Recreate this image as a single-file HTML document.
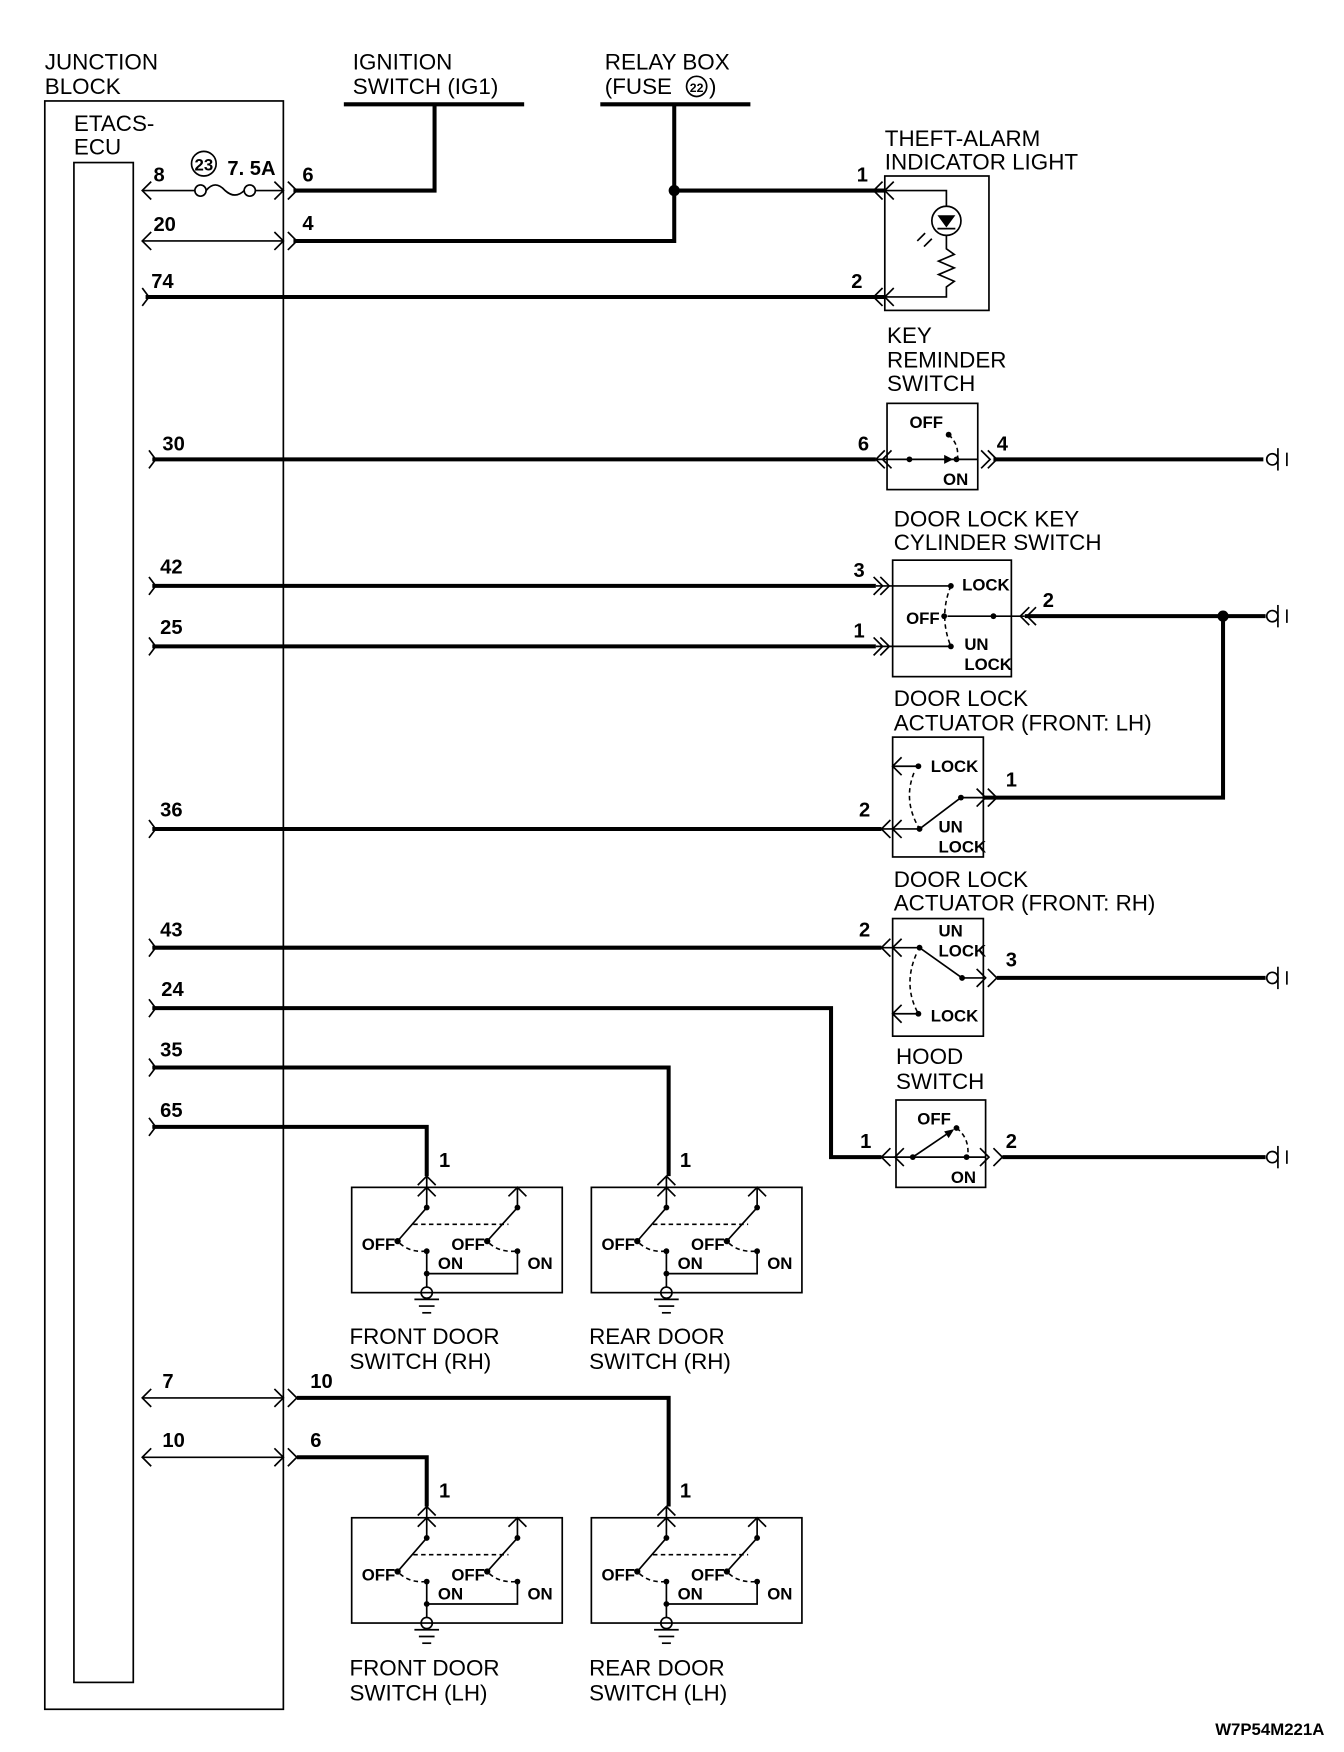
<!DOCTYPE html>
<html><head><meta charset="utf-8">
<style>
html,body{margin:0;padding:0;background:#fff;}
svg{display:block;}
.t{stroke:#000;stroke-width:1.5;fill:none;}
.k{stroke:#000;stroke-width:3.6;fill:none;}
.d{stroke:#000;stroke-width:1.4;fill:none;stroke-dasharray:4 3;}
text{font-family:"Liberation Sans",sans-serif;fill:#000;}
.L{font-size:20px;}
.n{font-size:18px;font-weight:bold;}
.s{font-size:15px;font-weight:bold;}
</style></head><body>
<svg width="1344" height="1752" viewBox="0 0 1200 1564" xmlns="http://www.w3.org/2000/svg">
<rect x="0" y="0" width="1200" height="1564" fill="#fff"/>
<text class="L" x="40" y="62">JUNCTION</text>
<text class="L" x="40" y="84">BLOCK</text>
<rect class="t" x="40" y="90" width="213" height="1436"/>
<text class="L" x="66" y="117">ETACS-</text>
<text class="L" x="66" y="138">ECU</text>
<rect class="t" x="66" y="145" width="53" height="1357"/>

<text class="L" x="315" y="62">IGNITION</text>
<text class="L" x="315" y="84">SWITCH (IG1)</text>
<line class="k" x1="307" y1="93" x2="468" y2="93"/>
<polyline class="k" points="388,93 388,170 262,170"/>
<text class="L" x="540" y="62">RELAY BOX</text>
<text class="L" x="540" y="84">(FUSE </text>
<circle class="t" cx="622" cy="77" r="9"/>
<text x="622" y="82" text-anchor="middle" style="font-size:11px;font-weight:bold">22</text>
<text class="L" x="633" y="84">)</text>
<line class="k" x1="536" y1="93" x2="670" y2="93"/>
<polyline class="k" points="602,93 602,215 262,215"/>
<line class="k" x1="602" y1="170" x2="790" y2="170"/>
<circle cx="602" cy="170" r="5" fill="#000"/>

<line class="t" x1="127" y1="170" x2="174" y2="170"/>
<line class="t" x1="228" y1="170" x2="253" y2="170"/>
<circle class="t" cx="179" cy="170" r="5"/>
<circle class="t" cx="223" cy="170" r="5"/>
<path class="t" d="M184,170 Q192,160 201,170 Q210,178 218,170"/>
<path class="t" d="M135,162 L127,170 L135,178 M245,162 L253,170 L245,178 M257,162 L265,170 L257,178"/>
<text class="n" x="137" y="162">8</text>
<circle class="t" cx="182" cy="146" r="11"/>
<text x="182" y="152" text-anchor="middle" style="font-size:15px;font-weight:bold">23</text>
<text class="n" x="203" y="156">7. 5A</text>
<text class="n" x="270" y="162">6</text>
<line class="t" x1="127" y1="215" x2="253" y2="215"/>
<path class="t" d="M135,207 L127,215 L135,223 M245,207 L253,215 L245,223 M257,207 L265,215 L257,223"/>
<text class="n" x="137" y="206">20</text>
<text class="n" x="270" y="205">4</text>
<line class="k" x1="130" y1="265" x2="790" y2="265"/>
<path class="t" d="M127,257 L133,265 L127,273"/>
<text class="n" x="135" y="257">74</text>
<text class="n" x="760" y="257">2</text>
<text class="n" x="765" y="162">1</text>

<text class="L" x="790" y="130">THEFT-ALARM</text>
<text class="L" x="790" y="151">INDICATOR LIGHT</text>
<rect class="t" x="790" y="157" width="93" height="120"/>
<polyline class="t" points="790,170 845,170 845,184"/>
<circle class="t" cx="845" cy="197" r="13"/>
<path d="M837,192 L853,192 L845,203 Z" fill="#000"/>
<line class="t" x1="837" y1="204" x2="853" y2="204"/>
<polyline class="t" points="845,210 845,222 852,227 838,233 852,239 838,245 852,251 845,256 845,265 790,265"/>
<path class="t" d="M826,208 L819,215 M832,213 L825,220"/>
<path class="t" d="M788,162 L780,170 L788,178 M798,162 L790,170 L798,178 M788,257 L780,265 L788,273 M798,257 L790,265 L798,273"/>

<text class="L" x="792" y="306">KEY</text>
<text class="L" x="792" y="328">REMINDER</text>
<text class="L" x="792" y="349">SWITCH</text>
<rect class="t" x="792" y="360" width="81" height="77"/>
<line class="k" x1="136" y1="410" x2="782" y2="410"/>
<path class="t" d="M133,402 L139,410 L133,418"/>
<text class="n" x="145" y="402">30</text>
<text class="n" x="766" y="402">6</text>
<line class="t" x1="782" y1="410" x2="873" y2="410"/>
<path class="t" d="M790,402 L782,410 L790,418 M796,402 L788,410 L796,418 M876,402 L884,410 L876,418 M882,402 L890,410 L882,418"/>
<circle cx="812" cy="410" r="2.6" fill="#000"/>
<path d="M843,406 L851,410 L843,414Z" fill="#000"/>
<circle cx="854" cy="410" r="2.6" fill="#000"/>
<circle cx="847" cy="388" r="2.6" fill="#000"/>
<path class="d" d="M847,388 Q856,396 855,408"/>
<text class="s" x="812" y="382">OFF</text>
<text class="s" x="842" y="433">ON</text>
<line class="k" x1="887" y1="410" x2="1128" y2="410"/>
<text class="n" x="890" y="402">4</text>

<text class="L" x="798" y="470">DOOR LOCK KEY</text>
<text class="L" x="798" y="491">CYLINDER SWITCH</text>
<rect class="t" x="797" y="500" width="106" height="104"/>
<line class="k" x1="136" y1="523" x2="782" y2="523"/>
<line class="k" x1="136" y1="577" x2="782" y2="577"/>
<path class="t" d="M133,515 L139,523 L133,531 M133,569 L139,577 L133,585"/>
<text class="n" x="143" y="512">42</text>
<text class="n" x="143" y="566">25</text>
<text class="n" x="762" y="515">3</text>
<text class="n" x="762" y="569">1</text>
<line class="t" x1="782" y1="523" x2="849" y2="523"/>
<line class="t" x1="782" y1="577" x2="849" y2="577"/>
<path class="t" d="M780,515 L788,523 L780,531 M786,515 L794,523 L786,531 M780,569 L788,577 L780,585 M786,569 L794,577 L786,585"/>
<circle cx="849" cy="523" r="2.6" fill="#000"/>
<circle cx="849" cy="577" r="2.6" fill="#000"/>
<path class="d" d="M849,523 Q838,550 849,577"/>
<circle cx="843" cy="550" r="2.6" fill="#000"/>
<circle cx="887" cy="550" r="2.6" fill="#000"/>
<line class="t" x1="846" y1="550" x2="915" y2="550"/>
<text class="s" x="809" y="557">OFF</text>
<text class="s" x="859" y="527">LOCK</text>
<text class="s" x="861" y="580">UN</text>
<text class="s" x="861" y="598">LOCK</text>
<path class="t" d="M919,542 L911,550 L919,558 M925,542 L917,550 L925,558"/>
<line class="k" x1="915" y1="550" x2="1130" y2="550"/>
<circle cx="1092" cy="550" r="5" fill="#000"/>
<polyline class="k" points="1092,550 1092,712 878,712"/>
<text class="n" x="931" y="542">2</text>

<text class="L" x="798" y="630">DOOR LOCK</text>
<text class="L" x="798" y="652">ACTUATOR (FRONT: LH)</text>
<rect class="t" x="797" y="658" width="81" height="107"/>
<line class="k" x1="136" y1="740" x2="787" y2="740"/>
<path class="t" d="M133,732 L139,740 L133,748"/>
<text class="n" x="143" y="729">36</text>
<text class="n" x="767" y="729">2</text>
<line class="t" x1="787" y1="740" x2="821" y2="740"/>
<path class="t" d="M795,732 L787,740 L795,748 M805,732 L797,740 L805,748"/>
<line class="t" x1="797" y1="684" x2="820" y2="684"/>
<path class="t" d="M805,676 L797,684 L805,692"/>
<circle cx="820" cy="684" r="2.6" fill="#000"/>
<path class="d" d="M816,690 Q806,715 821,740"/>
<circle cx="821" cy="740" r="2.6" fill="#000"/>
<line class="t" x1="821" y1="740" x2="858" y2="712"/>
<circle cx="858" cy="712" r="2.6" fill="#000"/>
<line class="t" x1="858" y1="712" x2="878" y2="712"/>
<path class="t" d="M872,704 L880,712 L872,720 M882,704 L890,712 L882,720"/>
<text class="s" x="831" y="689">LOCK</text>
<text class="s" x="838" y="743">UN</text>
<text class="s" x="838" y="761">LOCK</text>
<text class="n" x="898" y="702">1</text>

<text class="L" x="798" y="792">DOOR LOCK</text>
<text class="L" x="798" y="813">ACTUATOR (FRONT: RH)</text>
<rect class="t" x="797" y="820" width="81" height="105"/>
<line class="k" x1="136" y1="846" x2="787" y2="846"/>
<path class="t" d="M133,838 L139,846 L133,854"/>
<text class="n" x="143" y="836">43</text>
<text class="n" x="767" y="836">2</text>
<line class="t" x1="787" y1="846" x2="821" y2="846"/>
<path class="t" d="M795,838 L787,846 L795,854 M805,838 L797,846 L805,854"/>
<circle cx="821" cy="846" r="2.6" fill="#000"/>
<line class="t" x1="821" y1="846" x2="859" y2="873"/>
<circle cx="859" cy="873" r="2.6" fill="#000"/>
<line class="t" x1="859" y1="873" x2="878" y2="873"/>
<path class="t" d="M872,865 L880,873 L872,881 M882,865 L890,873 L882,881"/>
<path class="d" d="M818,852 Q806,880 820,905"/>
<circle cx="820" cy="905" r="2.6" fill="#000"/>
<line class="t" x1="797" y1="905" x2="820" y2="905"/>
<path class="t" d="M805,897 L797,905 L805,913"/>
<text class="s" x="838" y="836">UN</text>
<text class="s" x="838" y="854">LOCK</text>
<text class="s" x="831" y="912">LOCK</text>
<line class="k" x1="890" y1="873" x2="1130" y2="873"/>
<text class="n" x="898" y="863">3</text>

<polyline class="k" points="136,900 742,900 742,1033 787,1033"/>
<path class="t" d="M133,892 L139,900 L133,908"/>
<text class="n" x="144" y="889">24</text>
<text class="L" x="800" y="950">HOOD</text>
<text class="L" x="800" y="972">SWITCH</text>
<rect class="t" x="800" y="982" width="80" height="78"/>
<line class="t" x1="787" y1="1033" x2="880" y2="1033"/>
<path class="t" d="M795,1025 L787,1033 L795,1041 M807,1025 L799,1033 L807,1041 M875,1025 L883,1033 L875,1041 M887,1025 L895,1033 L887,1041"/>
<circle cx="815" cy="1033" r="2.6" fill="#000"/>
<line class="t" x1="815" y1="1033" x2="849" y2="1010"/>
<path d="M843,1010 L852,1008 L847,1016Z" fill="#000"/>
<circle cx="854" cy="1007" r="2.6" fill="#000"/>
<path class="d" d="M854,1007 Q866,1016 864,1033"/>
<circle cx="863" cy="1033" r="2.6" fill="#000"/>
<text class="s" x="819" y="1004">OFF</text>
<text class="s" x="849" y="1056">ON</text>
<line class="k" x1="895" y1="1033" x2="1130" y2="1033"/>
<text class="n" x="768" y="1025">1</text>
<text class="n" x="898" y="1025">2</text>

<g class="t">
<circle cx="1136" cy="410" r="5"/><line x1="1141" y1="400" x2="1141" y2="420"/><line x1="1149" y1="404" x2="1149" y2="416"/>
<circle cx="1136" cy="550" r="5"/><line x1="1141" y1="540" x2="1141" y2="560"/><line x1="1149" y1="544" x2="1149" y2="556"/>
<circle cx="1136" cy="873" r="5"/><line x1="1141" y1="863" x2="1141" y2="883"/><line x1="1149" y1="867" x2="1149" y2="879"/>
<circle cx="1136" cy="1033" r="5"/><line x1="1141" y1="1023" x2="1141" y2="1043"/><line x1="1149" y1="1027" x2="1149" y2="1039"/>
</g>

<polyline class="k" points="136,953 597,953 597,1050"/>
<polyline class="k" points="136,1006 381,1006 381,1050"/>
<path class="t" d="M133,945 L139,953 L133,961 M133,998 L139,1006 L133,1014"/>
<text class="n" x="143" y="943">35</text>
<text class="n" x="143" y="997">65</text>
<text class="n" x="392" y="1042">1</text>
<text class="n" x="607" y="1042">1</text>

<line class="t" x1="127" y1="1248" x2="253" y2="1248"/>
<line class="t" x1="127" y1="1301" x2="253" y2="1301"/>
<path class="t" d="M135,1240 L127,1248 L135,1256 M245,1240 L253,1248 L245,1256 M257,1240 L265,1248 L257,1256"/>
<path class="t" d="M135,1293 L127,1301 L135,1309 M245,1293 L253,1301 L245,1309 M257,1293 L265,1301 L257,1309"/>
<polyline class="k" points="265,1248 597,1248 597,1345"/>
<polyline class="k" points="265,1301 381,1301 381,1345"/>
<text class="n" x="145" y="1239">7</text>
<text class="n" x="145" y="1292">10</text>
<text class="n" x="277" y="1239">10</text>
<text class="n" x="277" y="1292">6</text>
<text class="n" x="392" y="1337">1</text>
<text class="n" x="607" y="1337">1</text>

<g transform="translate(314,1060)">
<rect class="t" x="0" y="0" width="188" height="94"/>
<path class="t" d="M59,-2 L67,-10 L75,-2 M59,8 L67,0 L75,8 M140,8 L148,0 L156,8"/>
<line class="t" x1="67" y1="-10" x2="67" y2="18"/><line class="t" x1="148" y1="0" x2="148" y2="18"/>
<circle cx="67" cy="18" r="2.6"/><circle cx="148" cy="18" r="2.6"/>
<line class="t" x1="67" y1="18" x2="41" y2="48"/><line class="t" x1="148" y1="18" x2="121" y2="48"/>
<circle cx="41" cy="48" r="2.8"/><circle cx="121" cy="48" r="2.8"/>
<line class="d" x1="55" y1="33" x2="140" y2="33"/>
<path class="d" d="M43,50 Q52,58 65,57 M123,50 Q132,58 146,57"/>
<circle cx="67" cy="57" r="2.6"/><circle cx="148" cy="57" r="2.6"/><circle cx="67" cy="77" r="2.6"/>
<polyline class="t" points="67,57 67,89"/><polyline class="t" points="67,77 148,77 148,57"/>
<circle class="t" cx="67" cy="94" r="5" fill="#fff"/>
<line class="t" x1="56" y1="100" x2="78" y2="100"/><line class="t" x1="60" y1="106" x2="74" y2="106"/><line class="t" x1="63" y1="112" x2="71" y2="112"/>
<text class="s" x="9" y="56">OFF</text><text class="s" x="89" y="56">OFF</text>
<text class="s" x="77" y="73">ON</text><text class="s" x="157" y="73">ON</text>
</g>
<g transform="translate(528,1060)">
<rect class="t" x="0" y="0" width="188" height="94"/>
<path class="t" d="M59,-2 L67,-10 L75,-2 M59,8 L67,0 L75,8 M140,8 L148,0 L156,8"/>
<line class="t" x1="67" y1="-10" x2="67" y2="18"/><line class="t" x1="148" y1="0" x2="148" y2="18"/>
<circle cx="67" cy="18" r="2.6"/><circle cx="148" cy="18" r="2.6"/>
<line class="t" x1="67" y1="18" x2="41" y2="48"/><line class="t" x1="148" y1="18" x2="121" y2="48"/>
<circle cx="41" cy="48" r="2.8"/><circle cx="121" cy="48" r="2.8"/>
<line class="d" x1="55" y1="33" x2="140" y2="33"/>
<path class="d" d="M43,50 Q52,58 65,57 M123,50 Q132,58 146,57"/>
<circle cx="67" cy="57" r="2.6"/><circle cx="148" cy="57" r="2.6"/><circle cx="67" cy="77" r="2.6"/>
<polyline class="t" points="67,57 67,89"/><polyline class="t" points="67,77 148,77 148,57"/>
<circle class="t" cx="67" cy="94" r="5" fill="#fff"/>
<line class="t" x1="56" y1="100" x2="78" y2="100"/><line class="t" x1="60" y1="106" x2="74" y2="106"/><line class="t" x1="63" y1="112" x2="71" y2="112"/>
<text class="s" x="9" y="56">OFF</text><text class="s" x="89" y="56">OFF</text>
<text class="s" x="77" y="73">ON</text><text class="s" x="157" y="73">ON</text>
</g>
<g transform="translate(314,1355)">
<rect class="t" x="0" y="0" width="188" height="94"/>
<path class="t" d="M59,-2 L67,-10 L75,-2 M59,8 L67,0 L75,8 M140,8 L148,0 L156,8"/>
<line class="t" x1="67" y1="-10" x2="67" y2="18"/><line class="t" x1="148" y1="0" x2="148" y2="18"/>
<circle cx="67" cy="18" r="2.6"/><circle cx="148" cy="18" r="2.6"/>
<line class="t" x1="67" y1="18" x2="41" y2="48"/><line class="t" x1="148" y1="18" x2="121" y2="48"/>
<circle cx="41" cy="48" r="2.8"/><circle cx="121" cy="48" r="2.8"/>
<line class="d" x1="55" y1="33" x2="140" y2="33"/>
<path class="d" d="M43,50 Q52,58 65,57 M123,50 Q132,58 146,57"/>
<circle cx="67" cy="57" r="2.6"/><circle cx="148" cy="57" r="2.6"/><circle cx="67" cy="77" r="2.6"/>
<polyline class="t" points="67,57 67,89"/><polyline class="t" points="67,77 148,77 148,57"/>
<circle class="t" cx="67" cy="94" r="5" fill="#fff"/>
<line class="t" x1="56" y1="100" x2="78" y2="100"/><line class="t" x1="60" y1="106" x2="74" y2="106"/><line class="t" x1="63" y1="112" x2="71" y2="112"/>
<text class="s" x="9" y="56">OFF</text><text class="s" x="89" y="56">OFF</text>
<text class="s" x="77" y="73">ON</text><text class="s" x="157" y="73">ON</text>
</g>
<g transform="translate(528,1355)">
<rect class="t" x="0" y="0" width="188" height="94"/>
<path class="t" d="M59,-2 L67,-10 L75,-2 M59,8 L67,0 L75,8 M140,8 L148,0 L156,8"/>
<line class="t" x1="67" y1="-10" x2="67" y2="18"/><line class="t" x1="148" y1="0" x2="148" y2="18"/>
<circle cx="67" cy="18" r="2.6"/><circle cx="148" cy="18" r="2.6"/>
<line class="t" x1="67" y1="18" x2="41" y2="48"/><line class="t" x1="148" y1="18" x2="121" y2="48"/>
<circle cx="41" cy="48" r="2.8"/><circle cx="121" cy="48" r="2.8"/>
<line class="d" x1="55" y1="33" x2="140" y2="33"/>
<path class="d" d="M43,50 Q52,58 65,57 M123,50 Q132,58 146,57"/>
<circle cx="67" cy="57" r="2.6"/><circle cx="148" cy="57" r="2.6"/><circle cx="67" cy="77" r="2.6"/>
<polyline class="t" points="67,57 67,89"/><polyline class="t" points="67,77 148,77 148,57"/>
<circle class="t" cx="67" cy="94" r="5" fill="#fff"/>
<line class="t" x1="56" y1="100" x2="78" y2="100"/><line class="t" x1="60" y1="106" x2="74" y2="106"/><line class="t" x1="63" y1="112" x2="71" y2="112"/>
<text class="s" x="9" y="56">OFF</text><text class="s" x="89" y="56">OFF</text>
<text class="s" x="77" y="73">ON</text><text class="s" x="157" y="73">ON</text>
</g>
<text class="L" x="312" y="1200">FRONT DOOR</text>
<text class="L" x="312" y="1222">SWITCH (RH)</text>
<text class="L" x="526" y="1200">REAR DOOR</text>
<text class="L" x="526" y="1222">SWITCH (RH)</text>
<text class="L" x="312" y="1496">FRONT DOOR</text>
<text class="L" x="312" y="1518">SWITCH (LH)</text>
<text class="L" x="526" y="1496">REAR DOOR</text>
<text class="L" x="526" y="1518">SWITCH (LH)</text>

<text x="1085" y="1549" style="font-size:15px;font-weight:bold">W7P54M221A</text>
</svg>
</body></html>
